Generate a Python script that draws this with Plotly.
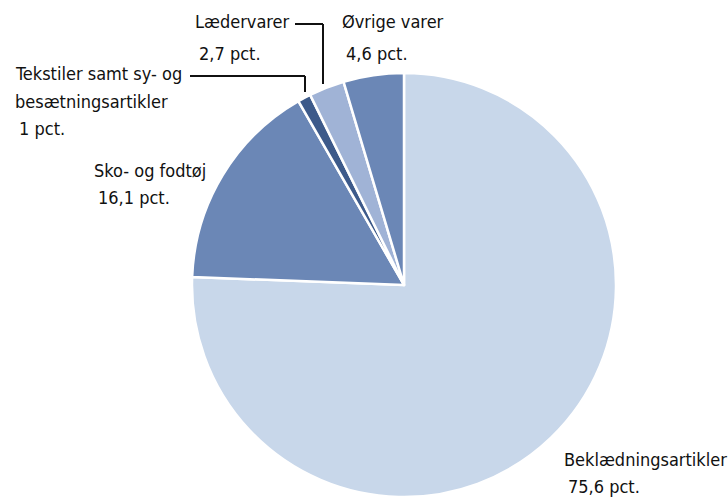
import plotly.graph_objects as go

W, H = 728, 497

labels = ["Beklædningsartikler", "Sko- og fodtøj", "Tekstiler samt sy- og besætningsartikler", "Lædervarer", "Øvrige varer"]
values = [75.6, 16.1, 1.0, 2.7, 4.6]
value_text = ["75,6 pct.", "16,1 pct.", "1 pct.", "2,7 pct.", "4,6 pct."]
colors = ["#c8d7ea", "#6b87b6", "#3d5a8a", "#a0b3d6", "#6b87b6"]

FONT = "DejaVu Sans Condensed, DejaVu Sans, sans-serif"

fig = go.Figure(go.Pie(
    labels=labels, values=values, sort=False, direction="clockwise", rotation=0,
    marker=dict(colors=colors, line=dict(color="white", width=2.5)),
    textinfo="none", hoverinfo="label+percent", showlegend=False,
    domain=dict(x=[190 / W, 618 / W], y=[0, 1 - 73 / H]),
))

def px(x, y):
    return x / W, 1 - y / H

# label lines: (text, left px, center px)
label_lines = [
    (labels[3], 193, 22), (value_text[3], 197, 53),
    (labels[4], 340, 22), (value_text[4], 344, 53),
    ("Tekstiler samt sy- og", 13, 74), ("besætningsartikler", 13, 101), (value_text[2], 17, 128),
    (labels[1], 92, 170), (value_text[1], 96, 198),
    (labels[0], 562, 459), (value_text[0], 566, 486),
]
for t, x, y in label_lines:
    ax, ay = px(x, y)
    fig.add_annotation(x=ax, y=ay, xref="paper", yref="paper", text=t, showarrow=False,
                       xanchor="left", yanchor="middle", font=dict(family=FONT, size=18, color="#111"))

# leader lines
leaders = [
    [(190, 76), (305, 76), (305, 92)],
    [(295, 24), (323, 24), (323, 84)],
]
for pts in leaders:
    for (x0, y0), (x1, y1) in zip(pts[:-1], pts[1:]):
        a0, b0 = px(x0, y0)
        a1, b1 = px(x1, y1)
        fig.add_shape(type="line", xref="paper", yref="paper", x0=a0, y0=b0, x1=a1, y1=b1,
                      line=dict(color="#111", width=2))

fig.update_layout(width=W, height=H, margin=dict(l=0, r=0, t=0, b=0),
                  paper_bgcolor="white", plot_bgcolor="white")
fig.write_html("out.html", config={"displayModeBar": False},
               post_script="document.body.style.margin='0';")
